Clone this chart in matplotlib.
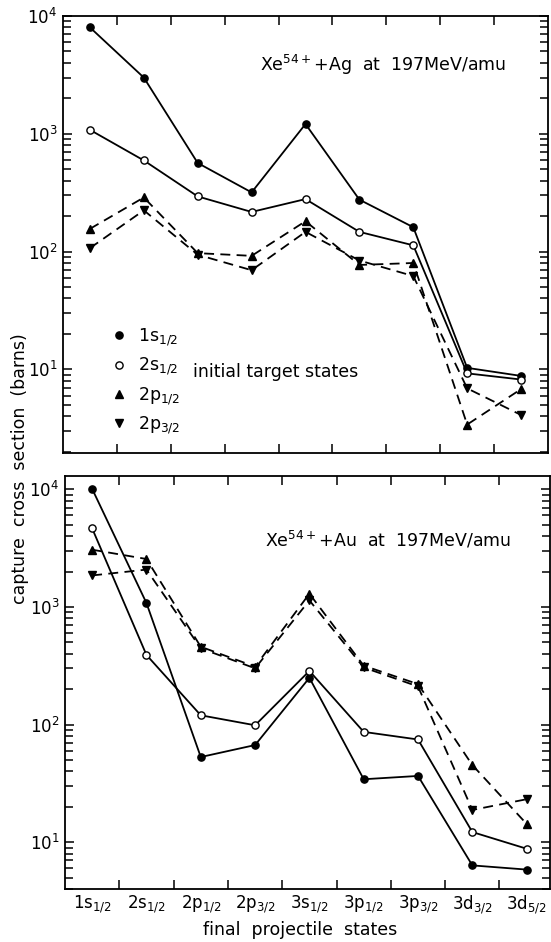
import matplotlib
matplotlib.use("Agg")
import matplotlib.pyplot as plt
from matplotlib.lines import Line2D
from matplotlib.ticker import LogLocator, NullFormatter
import numpy as np

plt.rcParams['font.family'] = ['DejaVu Sans']
plt.rcParams['mathtext.default'] = 'regular'

# final projectile states (x categories)
states = [r"1s$_{1/2}$", r"2s$_{1/2}$", r"2p$_{1/2}$", r"2p$_{3/2}$", r"3s$_{1/2}$",
          r"3p$_{1/2}$", r"3p$_{3/2}$", r"3d$_{3/2}$", r"3d$_{5/2}$"]

# initial target states (series)
series_names = [r"1s$_{1/2}$", r"2s$_{1/2}$", r"2p$_{1/2}$", r"2p$_{3/2}$"]

# Xe54+ + Ag at 197 MeV/amu  (barns)
ag_1s = [8000, 3000, 565, 318, 1210, 276, 161, 10.3, 8.8]
ag_2s = [1080, 594, 294, 217, 279, 147, 113, 9.25, 8.2]
ag_2p12 = [156, 288, 97, 92, 181, 77, 80, 3.4, 6.8]
ag_2p32 = [107, 224, 94, 69.5, 147, 84, 62, 6.9, 4.1]

# Xe54+ + Au at 197 MeV/amu  (barns)
au_1s = [10100, 1080, 53, 67, 250, 34.3, 36.6, 6.35, 5.85]
au_2s = [4660, 391, 120, 98.7, 286, 86.7, 74.7, 12.2, 8.8]
au_2p12 = [3070, 2560, 459, 311, 1297, 317, 221, 45.3, 14.3]
au_2p32 = [1855, 2080, 445, 301, 1138, 306, 211, 18.8, 23.2]

fig = plt.figure(figsize=(5.51, 9.42), dpi=100)
W, H = 551, 942

def axes_px(l, r, t, b):
    return fig.add_axes([l / W, (H - b) / H, (r - l) / W, (b - t) / H])

ax1 = axes_px(63, 548, 16, 453)
ax2 = axes_px(65, 550, 476, 889)

x = np.arange(len(states))

styles = [
    dict(marker='o', mfc='black', ls='-'),
    dict(marker='o', mfc='white', ls='-'),
    dict(marker='^', mfc='black', ls=(0, (5.5, 3.5))),
    dict(marker='v', mfc='black', ls=(0, (5.5, 3.5))),
]

def draw(ax, data):
    for vals, st in zip(data, styles):
        ax.plot(x, vals, color='black', lw=1.3, marker=st['marker'],
                mfc=st['mfc'], mec='black', mew=1.0, ms=5.2, ls=st['ls'], zorder=3)

draw(ax1, [ag_1s, ag_2s, ag_2p12, ag_2p32])
draw(ax2, [au_1s, au_2s, au_2p12, au_2p32])

ax1.set_ylim(1.95, 1e4)
ax2.set_ylim(4.0, 1.3e4)
ax1.set_xlim(-0.5, 8.5)
ax2.set_xlim(-0.5, 8.43)

for ax in (ax1, ax2):
    ax.set_yscale('log')
    ax.yaxis.set_major_locator(LogLocator(base=10, numticks=10))
    ax.yaxis.set_minor_locator(LogLocator(base=10, subs=np.arange(2, 10), numticks=20))
    ax.yaxis.set_minor_formatter(NullFormatter())
    ax.set_xticks(np.arange(0.5, 8, 1.0))
    ax.set_xticklabels([])
    ax.tick_params(axis='both', which='both', direction='in', top=True, right=True,
                   width=1.1, colors='black')
    ax.tick_params(axis='both', which='major', length=6.5, labelsize=12, pad=4)
    ax.tick_params(axis='y', which='minor', length=5.5)
    for sp in ax.spines.values():
        sp.set_linewidth(1.3)

ax2.set_xticks(x, labels=states, minor=True)
ax2.tick_params(axis='x', which='minor', length=0, labelsize=12, pad=3)

ax1.text(0.406, 0.888, r"Xe$^{54+}$+Ag  at  197MeV/amu", transform=ax1.transAxes,
         fontsize=12.5, va='center', ha='left')
ax2.text(0.412, 0.845, r"Xe$^{54+}$+Au  at  197MeV/amu", transform=ax2.transAxes,
         fontsize=12.5, va='center', ha='left')

handles = [Line2D([], [], ls='none', color='black', marker=st['marker'], mfc=st['mfc'],
                  mec='black', ms=5.2, mew=1.0) for st in styles]
ax1.legend(handles, series_names, loc='upper left', bbox_to_anchor=(0.08, 0.31),
           frameon=False, fontsize=12.5, handletextpad=0.6, labelspacing=0.45,
           handlelength=1.0, borderpad=0)
ax1.text(0.268, 0.185, "initial target states", transform=ax1.transAxes,
         fontsize=12.5, va='center', ha='left')

fig.text(20 / W, (H - 469) / H, "capture  cross  section  (barns)", rotation=90,
         fontsize=12.5, ha='center', va='center')
fig.text(300 / W, (H - 930) / H, "final  projectile  states", fontsize=12.5,
         ha='center', va='center')

fig.savefig("out.png", dpi=100)
